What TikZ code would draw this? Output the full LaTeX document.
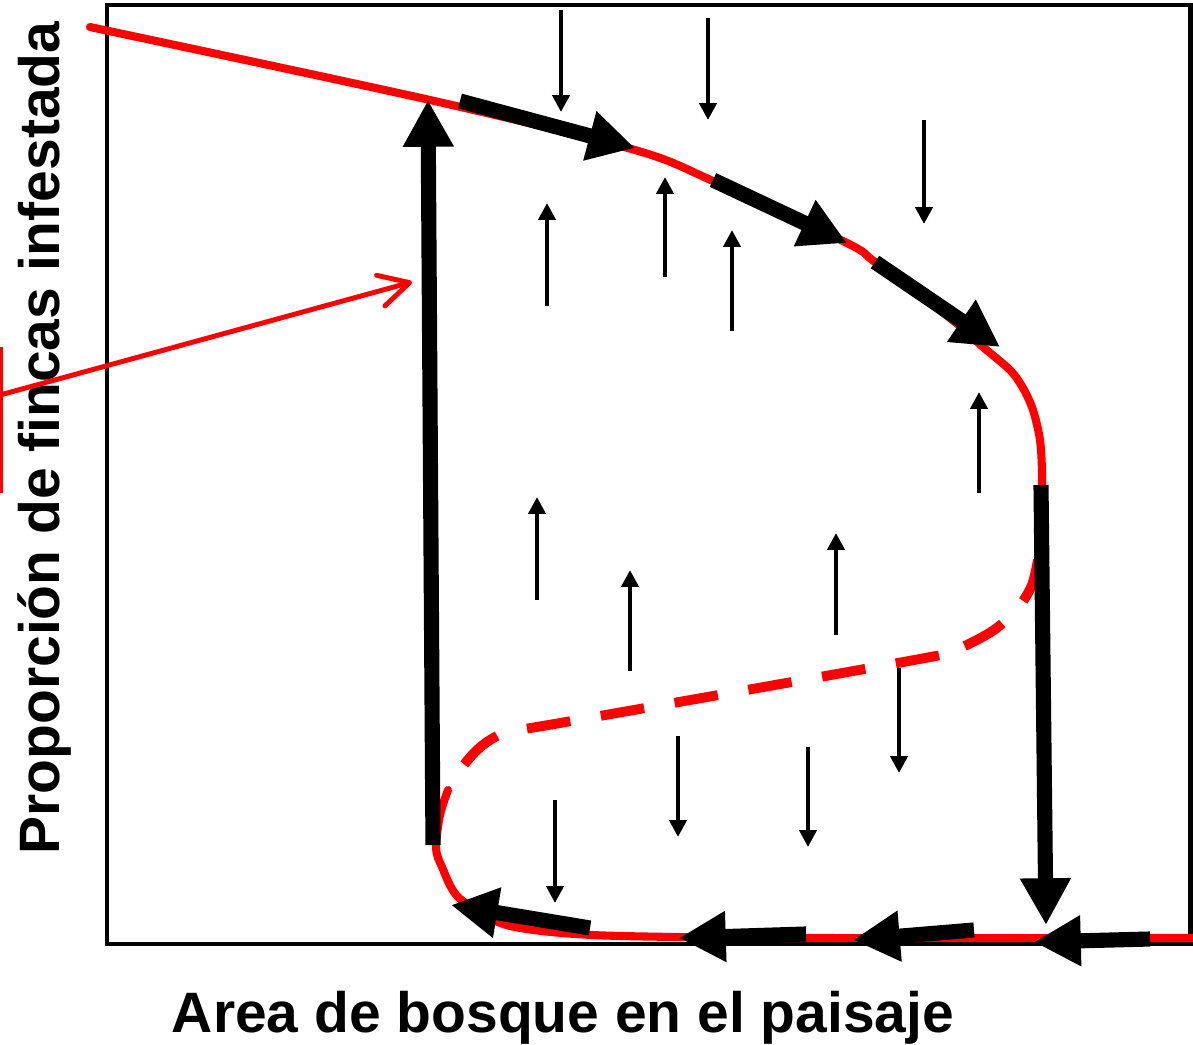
\documentclass[tikz,border=0pt]{standalone}
\usepackage{fontspec}
\setmainfont{Liberation Sans}
\usetikzlibrary{arrows.meta}
\definecolor{curvered}{HTML}{FF0000}
\definecolor{inkmain}{HTML}{000000}

\begin{document}
\begin{tikzpicture}[x=0.01cm, y=-0.01cm,
    axislabel/.style={font=\fontsize{16.2}{19}\selectfont\bfseries, text=inkmain, inner sep=0pt},
    frameline/.style={draw=inkmain, line width=1.2pt},
    curvesolid/.style={draw=curvered, line width=2.3pt, line cap=round, line join=round},
    curvedash/.style={draw=curvered, line width=2.8pt, dash pattern=on 12.5pt off 8.8pt},
    flowarrow/.style={draw=inkmain, line width=4.3pt, -{Triangle[length=13.3pt,width=13.6pt]}},
    driftarrow/.style={draw=inkmain, line width=1.2pt, -{Triangle[length=4.8pt,width=4.8pt]}},
    pointer/.style={draw=curvered, line width=1.4pt, line cap=round,
                    -{Straight Barb[length=8.5pt,width=9pt,round]}},
  ]
  \useasboundingbox (0,0) rectangle (1193,1045);

  % axis labels
  \node[axislabel, rotate=90, anchor=base] (ylabel) at (60,438) {Proporción de fincas infestada};
  \node[axislabel, anchor=base] (xlabel) at (563,1032) {Area de bosque en el paisaje};

  % frame
  \draw[frameline] (107,5) rectangle (1190.5,944);

  % equilibrium curve: upper branch, unstable middle, lower branch
  \draw[curvesolid] plot[smooth, tension=0.5] coordinates {(90,27) (430,100) (635,150) (713,181)
    (847,243) (875,262) (950,318) (983,347) (1010,370) (1023,388) (1033,410) (1040,440)
    (1042,475) (1041,530) (1038,560)};
  \draw[curvedash] plot[smooth, tension=0.5] coordinates {(1038,560) (1032,585) (1018,608)
    (994,630) (960,648) (925,658) (560,723) (510,731) (490,740) (475,752) (460,770) (448,790)};
  \draw[curvesolid] plot[smooth, tension=0.5] coordinates {(448,790) (440,815) (436,848)
    (442,867) (458,897) (498,922) (534,930) (592,935) (677,937) (802,938) (1193,938)};

  % red pointer and mark at the left edge
  \draw[pointer] (0,395) -- (412,282);
  \draw[draw=curvered, line width=1pt] (1,347) -- (1,493);

  % small arrows: direction of change
  \foreach \xa/\ya/\yb in {561/10/112, 708/18/120, 924/120/224, 899/668/773, 678/736/837,
      808/747/847, 555/800/903, 547/306/203, 665/277/177, 732/331/230, 979/493/392,
      537/600/497, 630/671/570, 836/635/533}
    \draw[driftarrow] (\xa,\ya) -- (\xa,\yb);

  % hysteresis path
  \draw[flowarrow] (433,845) -- (428,100);
  \draw[flowarrow] (460,101) -- (635,148);
  \draw[flowarrow] (713,180) -- (847,243);
  \draw[flowarrow] (875,262) -- (1000,347);
  \draw[flowarrow] (1041,485) -- (1046,925);
  \draw[flowarrow] (1150,939) -- (1034,942);
  \draw[flowarrow] (974,930) -- (853,940);
  \draw[flowarrow] (806,934) -- (679,938);
  \draw[flowarrow] (590,928) -- (451,905);
\end{tikzpicture}
\end{document}
